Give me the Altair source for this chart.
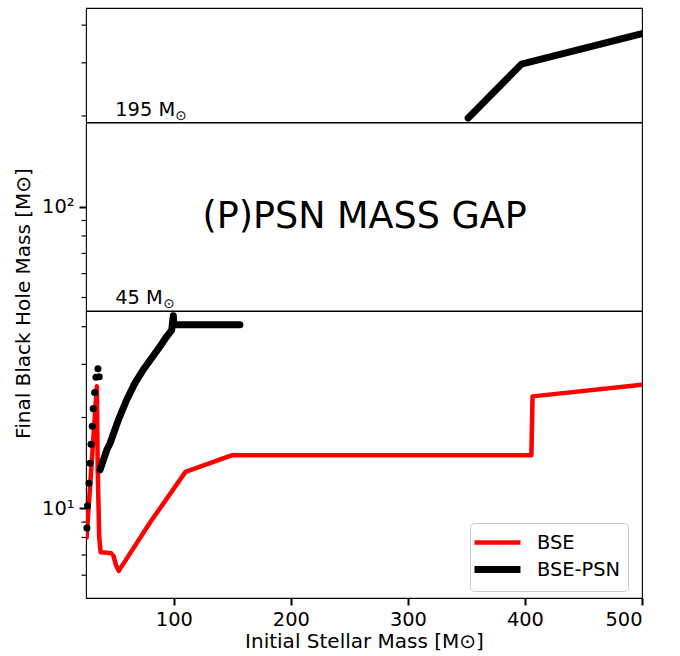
import altair as alt
import pandas as pd

FONT = "DejaVu Sans"

# BSE (red) curve
red_mass = [25.5, 34.3, 35.0, 36.3, 37.5, 46.5, 48.5, 50.5, 53.0, 80.0, 110.0, 150.0, 405.5, 406.5, 500.0]
red_bh = [8.0, 25.4, 13.5, 8.0, 7.15, 7.1, 6.95, 6.5, 6.2, 9.0, 13.2, 15.0, 15.0, 23.5, 25.7]

# BSE-PSN (black) lower branch
psn_low_mass = [37.0, 42.7, 45.5, 52.6, 59.8, 66.8, 73.9, 81.1, 88.2, 93.9, 98.2, 99.6, 100.0, 156.5]
psn_low_bh = [13.4, 15.6, 16.4, 19.6, 22.9, 26.0, 28.8, 31.5, 34.4, 37.1, 39.0, 43.5, 40.6, 40.6]

# BSE-PSN (black) upper branch
psn_high_mass = [351.5, 397.0, 500.0]
psn_high_bh = [197.0, 297.0, 375.0]

# BSE-PSN (black) dots at low mass
dot_mass = [25.8, 26.3, 27.6, 28.4, 29.3, 30.4, 31.2, 32.4, 33.5, 35.2, 36.3]
dot_bh = [8.6, 10.2, 12.1, 14.1, 16.3, 18.7, 21.4, 24.2, 27.2, 29.0, 27.3]

# mass-gap limits
gap_lines = [190, 45]
gap_labels = ["195 M", "45 M"]

minor_ticks = [6, 7, 8, 9, 20, 30, 40, 50, 60, 70, 80, 90, 200, 300, 400]

XDOM = [25, 500]
YDOM = [5.04, 456]

xs = alt.Scale(domain=XDOM, nice=False, zero=False)
ys = alt.Scale(type="log", domain=YDOM, nice=False)

lines_df = pd.DataFrame(
    [{"m": m, "bh": b, "model": "BSE", "seg": "r"} for m, b in zip(red_mass, red_bh)]
    + [{"m": m, "bh": b, "model": "BSE-PSN", "seg": "lo"} for m, b in zip(psn_low_mass, psn_low_bh)]
    + [{"m": m, "bh": b, "model": "BSE-PSN", "seg": "hi"} for m, b in zip(psn_high_mass, psn_high_bh)]
)
dots_df = pd.DataFrame({"m": dot_mass, "bh": dot_bh})
gap_df = pd.DataFrame({"bh": gap_lines, "label": gap_labels})
minor_df = pd.DataFrame({"v": minor_ticks})
title_df = pd.DataFrame({"m": [263], "bh": [85], "t": ["(P)PSN MASS GAP"]})

x_enc = alt.X("m:Q", scale=xs, axis=alt.Axis(
    title="Initial Stellar Mass [M⊙]", values=[100, 200, 300, 400, 500],
    tickSize=7, tickWidth=2, tickColor="black", domain=False, grid=False,
    labelFontSize=19.4, titleFontSize=20, labelPadding=5, titlePadding=3,
    labelFont=FONT, titleFont=FONT, labelColor="black", titleColor="black",
    titleFontWeight="normal"))

y_axis = alt.Axis(
    title="Final Black Hole Mass [M⊙]", values=[10, 100],
    labelExpr="datum.value == 10 ? '10¹' : (datum.value == 100 ? '10²' : '')",
    tickSize=7, tickWidth=2, tickColor="black", domain=False, grid=False,
    labelFontSize=19.4, titleFontSize=20, labelPadding=5, titlePadding=8,
    labelFont=FONT, titleFont=FONT, labelColor="black", titleColor="black",
    titleFontWeight="normal")

base_lines = alt.Chart(lines_df).mark_line(
    strokeCap="round", strokeJoin="round", clip=True
).encode(
    x=x_enc,
    y=alt.Y("bh:Q", scale=ys, axis=y_axis),
    color=alt.Color("model:N", scale=alt.Scale(domain=["BSE", "BSE-PSN"], range=["#ff0000", "#000000"]),
                    legend=alt.Legend(title=None, orient="none", legendX=384, legendY=515,
                                      symbolType="M-1.6,0H3.0", symbolStrokeWidth=5, symbolSize=400,
                                      labelFontSize=19.4, labelFont=FONT, labelColor="black",
                                      fillColor="white", strokeColor="#cccccc", cornerRadius=4,
                                      padding=7, rowPadding=3, labelOffset=33)),
    strokeWidth=alt.StrokeWidth("model:N", scale=alt.Scale(domain=["BSE", "BSE-PSN"], range=[4.5, 7]), legend=None),
    detail="seg:N",
)

dots = alt.Chart(dots_df).mark_circle(size=50, color="black", opacity=1).encode(
    x=alt.X("m:Q", scale=xs), y=alt.Y("bh:Q", scale=ys))

gap_rules = alt.Chart(gap_df).mark_rule(color="black", strokeWidth=1.5).encode(
    y=alt.Y("bh:Q", scale=ys))

gap_text = alt.Chart(gap_df).mark_text(align="left", baseline="alphabetic", dy=-7,
                                       fontSize=19.4, font=FONT, color="black").encode(
    x=alt.datum(50, scale=xs), y=alt.Y("bh:Q", scale=ys), text="label:N")

sun_hi = alt.Chart(gap_df).transform_filter(alt.datum.bh > 100).mark_text(
    align="left", baseline="alphabetic", dy=-3, dx=60,
    fontSize=13.5, font=FONT, color="black").encode(
    x=alt.datum(50, scale=xs), y=alt.Y("bh:Q", scale=ys), text=alt.value("⊙"))

sun_lo = alt.Chart(gap_df).transform_filter(alt.datum.bh < 100).mark_text(
    align="left", baseline="alphabetic", dy=-3, dx=48,
    fontSize=13.5, font=FONT, color="black").encode(
    x=alt.datum(50, scale=xs), y=alt.Y("bh:Q", scale=ys), text=alt.value("⊙"))

minor = alt.Chart(minor_df).mark_rule(color="black", strokeWidth=1.2).encode(
    x=alt.value(-4.5), x2=alt.value(0), y=alt.Y("v:Q", scale=ys))

big_text = alt.Chart(title_df).mark_text(align="center", baseline="alphabetic",
                                         fontSize=36.5, font=FONT, color="black").encode(
    x=alt.X("m:Q", scale=xs), y=alt.Y("bh:Q", scale=ys), text="t:N")

chart = alt.layer(gap_rules, minor, base_lines, dots, gap_text, sun_hi, sun_lo, big_text).properties(
    width=556, height=590,
    autosize=alt.AutoSizeParams(type="none"),
    padding={"left": 86, "top": 8, "right": 38, "bottom": 58},
    background="white",
).configure_view(stroke="black", strokeWidth=1.1)

chart.save("out.html", embed_options={"renderer": "svg", "actions": False})
